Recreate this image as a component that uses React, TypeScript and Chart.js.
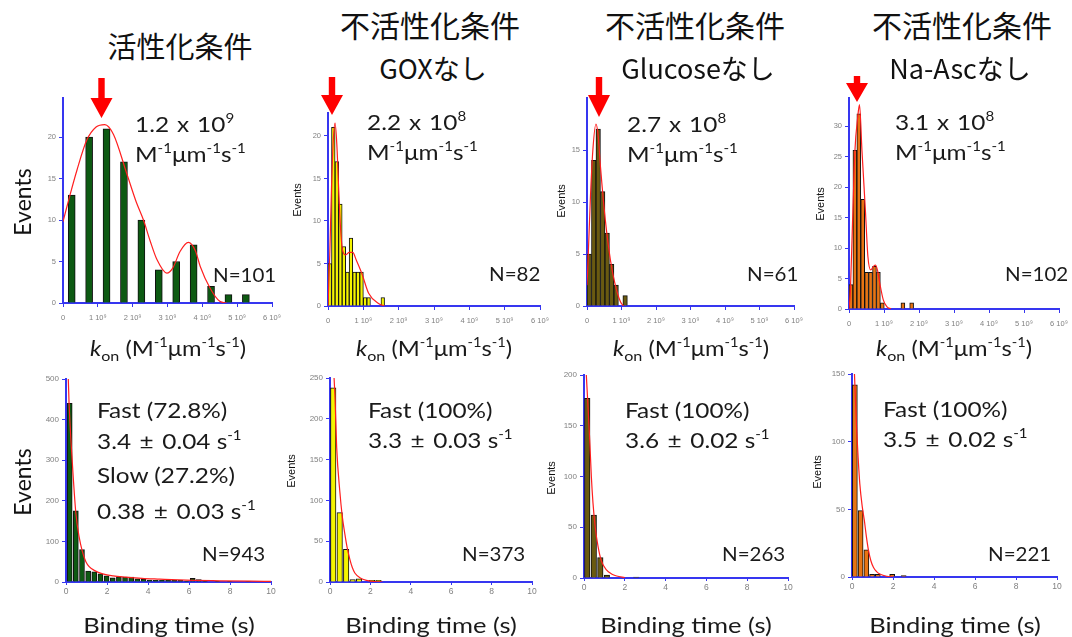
import React, { useEffect, useRef } from "react";
import { Chart, registerables } from "chart.js";
Chart.register(...registerables);

// ======================= DATA =======================
// Top row: k_on histograms, x in units of 10^9 M^-1 µm^-1 s^-1
const konTicks = [0, 1, 2, 3, 4, 5, 6];

const actKonBins = [0.25, 0.75, 1.25, 1.75, 2.25, 2.75, 3.25, 3.75, 4.25, 4.75, 5.25];
const actKonCounts = [13, 20, 21, 17, 10, 4, 5, 7, 2, 1, 1];
const actKonFitX = [0, 0.2, 0.4, 0.68, 0.95, 1.2, 1.45, 1.83, 2.1, 2.31, 2.5, 2.7, 2.98, 3.15, 3.36, 3.6, 3.8, 3.94, 4.22, 4.5, 4.7];
const actKonFitY = [9.8, 13, 16, 19.6, 21.2, 21.5, 20.3, 15.6, 12.2, 10, 7.5, 5.2, 3.6, 4.2, 6.2, 7.3, 6.3, 4.4, 1.8, 0.2, 0];

const goxKonBins = [0.05, 0.15, 0.25, 0.35, 0.45, 0.55, 0.65, 0.75, 0.85, 0.95, 1.05, 1.15, 1.55];
const goxKonCounts = [5, 21, 17, 12, 7, 4, 8, 4, 4, 4, 1, 1, 1];
const goxKonFitX = [0, 0.05, 0.1, 0.15, 0.2, 0.25, 0.3, 0.35, 0.41, 0.5, 0.6, 0.7, 0.8, 0.96, 1.15, 1.43, 1.6];
const goxKonFitY = [0, 6, 14, 19.5, 21.5, 19, 14, 9.5, 6.6, 6, 6.3, 6.3, 5.4, 3.8, 1.5, 0.3, 0];

const gluKonBins = [0.065, 0.195, 0.325, 0.455, 0.585, 0.715, 0.845, 1.105];
const gluKonCounts = [5, 14, 17, 11, 7, 4, 2, 1];
const gluKonFitX = [0, 0.02, 0.1, 0.17, 0.26, 0.32, 0.39, 0.53, 0.68, 0.82, 0.97, 1.06];
const gluKonFitY = [2, 3.5, 10.5, 15, 17.5, 16.5, 13.4, 8.3, 4.4, 2, 0.4, 0];

const ascKonBins = [0.056, 0.168, 0.28, 0.392, 0.504, 0.616, 0.728, 0.84, 0.952, 1.54, 1.79];
const ascKonCounts = [4, 26, 32, 18, 6, 6, 7, 6, 1, 1, 1];
const ascKonFitX = [0, 0.04, 0.1, 0.17, 0.25, 0.3, 0.37, 0.47, 0.54, 0.62, 0.7, 0.76, 0.82, 0.88, 0.98, 1.08, 1.2];
const ascKonFitY = [0, 3, 14, 26, 31.5, 33.5, 26, 16, 8.6, 6.4, 7, 7.2, 6.2, 4.2, 1.5, 0.4, 0];

// Bottom row: binding-time histograms, x in seconds
const timeTicks = [0, 2, 4, 6, 8, 10];

const actTimeBins = [0.18, 0.48, 0.78, 1.08, 1.38, 1.68, 1.98, 2.28, 2.58, 2.88, 3.18, 3.48, 3.78, 4.08, 4.38, 4.68, 4.98, 5.28, 5.58, 5.88, 6.18, 6.48, 6.78, 7.38, 7.98, 8.88, 9.78];
const actTimeCounts = [440, 175, 80, 27, 25, 20, 15, 10, 13, 12, 12, 8, 7, 5, 4, 4, 4, 4, 4, 2, 9, 6, 1, 1, 1, 1, 1];
const actTimeFitX = [0.1, 0.15, 0.31, 0.48, 0.64, 0.8, 0.97, 1.13, 1.4, 1.79, 2.3, 2.93, 3.7, 4.57, 5.5, 6.2, 7.5, 9, 10];
const actTimeFitY = [520, 440, 293, 170, 111, 75, 50, 38, 28, 20, 15, 12, 9, 7, 5, 4, 3, 2, 1.5];

const goxTimeBins = [0.16, 0.48, 0.8, 1.12, 1.44, 2.08, 2.4];
const goxTimeCounts = [238, 85, 40, 3, 4, 2, 2];
const goxTimeFitX = [0.18, 0.25, 0.33, 0.49, 0.6, 0.74, 0.85, 0.98, 1.1, 1.23, 1.5, 1.8, 2.2, 2.6];
const goxTimeFitY = [260, 225, 165, 110, 82, 58, 42, 28, 18, 11, 5, 2, 0.5, 0];

const gluTimeBins = [0.16, 0.48, 0.8, 1.12, 2.56];
const gluTimeCounts = [177, 62, 20, 3, 1];
const gluTimeFitX = [0.1, 0.18, 0.28, 0.36, 0.44, 0.55, 0.69, 0.85, 1.1, 1.35, 1.6, 2.0];
const gluTimeFitY = [205, 175, 136, 100, 74, 50, 31, 17, 8, 4, 2, 0.5];

const ascTimeBins = [0.14, 0.42, 0.7, 0.98, 1.26, 1.96, 2.52];
const ascTimeCounts = [142, 49, 20, 2, 2, 2, 1];
const ascTimeFitX = [0.1, 0.12, 0.22, 0.3, 0.38, 0.5, 0.6, 0.7, 0.8, 0.92, 1.05, 1.2, 1.38, 1.7, 2.0];
const ascTimeFitY = [160, 150, 111, 88, 69, 52, 42, 30, 20, 12, 7, 4, 2, 0.5, 0];

const yTicksA = [0, 5, 10, 15, 20];
const yTicksB = [0, 5, 10, 15];
const yTicksC = [0, 5, 10, 15, 20, 25, 30];
const yTicksD = [0, 100, 200, 300, 400, 500];
const yTicksE = [0, 50, 100, 150, 200, 250];
const yTicksF = [0, 50, 100, 150, 200];
const yTicksG = [0, 50, 100, 150];

// ======================= STYLE / LAYOUT =======================
const BLUE = "#3636f0";
const RED = "#ff1f1f";
const GREEN = "#0d5a12";
const YELLOW = "#f4f400";
const OLIVE = "#6a5a10";
const ORANGE = "#e87412";
const LAT = "Lato, 'Open Sans', sans-serif";
const CJK = "'Noto Sans CJK JP', sans-serif";
const ARIAL = "'Liberation Sans', Arial, sans-serif";
const SX = 1.16;

const LM = 32, TM = 12, RM = 18, BM = 24;

type Spec = {
  plot: { l: number; t: number; r: number; b: number };
  xMax: number;
  xTicks: number[];
  xFmt: (v: number) => string;
  yMax: number;
  yTicks: number[];
  bins: number[];
  counts: number[];
  fitX: number[];
  fitY: number[];
  color: string;
  barPx: number;
  top: boolean;
};

const konFmt = (v: number) => (v === 0 ? "0" : `${v} 10\u2079`);
const secFmt = (v: number) => String(v);

const specs: Spec[] = [
  { plot: { l: 63, t: 98, r: 272, b: 303 }, xMax: 6, xTicks: konTicks, xFmt: konFmt, yMax: 24.7, yTicks: yTicksA, bins: actKonBins, counts: actKonCounts, fitX: actKonFitX, fitY: actKonFitY, color: GREEN, barPx: 7, top: true },
  { plot: { l: 328, t: 113, r: 540, b: 306 }, xMax: 6, xTicks: konTicks, xFmt: konFmt, yMax: 22.7, yTicks: yTicksA, bins: goxKonBins, counts: goxKonCounts, fitX: goxKonFitX, fitY: goxKonFitY, color: YELLOW, barPx: 3.6, top: true },
  { plot: { l: 587, t: 98, r: 794, b: 306 }, xMax: 6, xTicks: konTicks, xFmt: konFmt, yMax: 20, yTicks: yTicksB, bins: gluKonBins, counts: gluKonCounts, fitX: gluKonFitX, fitY: gluKonFitY, color: OLIVE, barPx: 4.5, top: true },
  { plot: { l: 849, t: 98, r: 1059, b: 309 }, xMax: 6, xTicks: konTicks, xFmt: konFmt, yMax: 34.6, yTicks: yTicksC, bins: ascKonBins, counts: ascKonCounts, fitX: ascKonFitX, fitY: ascKonFitY, color: ORANGE, barPx: 3.9, top: true },
  { plot: { l: 66, t: 379, r: 271, b: 582 }, xMax: 10, xTicks: timeTicks, xFmt: secFmt, yMax: 500, yTicks: yTicksD, bins: actTimeBins, counts: actTimeCounts, fitX: actTimeFitX, fitY: actTimeFitY, color: GREEN, barPx: 5, top: false },
  { plot: { l: 330, t: 378, r: 532, b: 582 }, xMax: 10, xTicks: timeTicks, xFmt: secFmt, yMax: 250, yTicks: yTicksE, bins: goxTimeBins, counts: goxTimeCounts, fitX: goxTimeFitX, fitY: goxTimeFitY, color: YELLOW, barPx: 5.5, top: false },
  { plot: { l: 584, t: 375, r: 788, b: 578 }, xMax: 10, xTicks: timeTicks, xFmt: secFmt, yMax: 200, yTicks: yTicksF, bins: gluTimeBins, counts: gluTimeCounts, fitX: gluTimeFitX, fitY: gluTimeFitY, color: OLIVE, barPx: 5.5, top: false },
  { plot: { l: 852, t: 374, r: 1057, b: 577 }, xMax: 10, xTicks: timeTicks, xFmt: secFmt, yMax: 150, yTicks: yTicksG, bins: ascTimeBins, counts: ascTimeCounts, fitX: ascTimeFitX, fitY: ascTimeFitY, color: ORANGE, barPx: 5, top: false },
];

function HistPanel({ spec }: { spec: Spec }) {
  const ref = useRef<HTMLCanvasElement | null>(null);
  const w = spec.plot.r - spec.plot.l + LM + RM;
  const h = spec.plot.b - spec.plot.t + TM + BM;
  useEffect(() => {
    const chart = new Chart(ref.current as HTMLCanvasElement, {
      type: "bar",
      data: {
        datasets: [
          {
            type: "line",
            data: spec.fitX.map((x, i) => ({ x, y: spec.fitY[i] })),
            borderColor: RED,
            borderWidth: 1.2,
            pointRadius: 0,
            cubicInterpolationMode: "monotone",
            fill: false,
            order: 0,
          } as any,
          {
            type: "bar",
            data: spec.bins.map((x, i) => ({ x, y: spec.counts[i] })),
            backgroundColor: spec.color,
            borderColor: "#111",
            borderWidth: 1,
            barThickness: spec.barPx,
            order: 1,
          } as any,
        ],
      },
      options: {
        responsive: false,
        animation: false,
        events: [],
        layout: { padding: { top: TM, right: RM, left: 0, bottom: 0 } },
        plugins: { legend: { display: false }, tooltip: { enabled: false } },
        scales: {
          x: {
            type: "linear",
            min: 0,
            max: spec.xMax,
            offset: false,
            afterFit: (s: any) => { s.height = BM; },
            afterBuildTicks: (s: any) => { s.ticks = spec.xTicks.map((v) => ({ value: v })); },
            ticks: {
              autoSkip: false,
              maxRotation: 0,
              padding: spec.top ? 6 : 2,
              color: "#808080",
              font: { family: ARIAL, size: spec.top ? 7.5 : 8.5 },
              callback: (v: any) => spec.xFmt(Number(v)),
            },
            grid: { offset: false, drawOnChartArea: false, drawTicks: true, tickLength: spec.top ? 4 : 3, color: BLUE, lineWidth: 1 },
            border: { display: true, color: BLUE, width: 2 },
          },
          y: {
            type: "linear",
            min: 0,
            max: spec.yMax,
            afterFit: (s: any) => { s.width = LM; },
            afterBuildTicks: (s: any) => { s.ticks = spec.yTicks.map((v) => ({ value: v })); },
            ticks: {
              autoSkip: false,
              padding: 3,
              color: "#808080",
              font: { family: ARIAL, size: spec.top ? 7.5 : 8 },
              callback: (v: any) => String(v),
            },
            grid: { drawOnChartArea: false, drawTicks: true, tickLength: 4, color: BLUE, lineWidth: 1 },
            border: { display: true, color: BLUE, width: 2 },
          },
        },
      } as any,
    });
    return () => chart.destroy();
  }, []);
  return (
    <canvas
      ref={ref}
      width={w}
      height={h}
      style={{ position: "absolute", left: spec.plot.l - LM, top: spec.plot.t - TM, width: w, height: h }}
    />
  );
}

// ======================= TEXT =======================
function Sup({ children }: { children: React.ReactNode }) {
  return <span style={{ fontSize: "0.62em", position: "relative", top: "-0.72em" }}>{children}</span>;
}

function Gap({ children, m }: { children: React.ReactNode; m: number }) {
  return <span style={{ margin: `0 ${m}px` }}>{children}</span>;
}

function Lbl(props: { x: number; cap: number; size: number; center?: boolean; children: React.ReactNode; sx?: number }) {
  const { x, cap, size, center, children } = props;
  const sx = props.sx ?? SX;
  return (
    <div
      style={{
        position: "absolute",
        left: x,
        top: cap - 0.17 * size,
        fontFamily: LAT,
        fontSize: size,
        lineHeight: 1,
        whiteSpace: "pre",
        color: "#1a1a1a",
        transform: center ? `translateX(-50%) scaleX(${sx})` : `scaleX(${sx})`,
        transformOrigin: center ? "50% 0" : "0 0",
      }}
    >
      {children}
    </div>
  );
}

function Title({ cx, top, size, text }: { cx: number; top: number; size: number; text: string }) {
  return (
    <div
      style={{
        position: "absolute",
        left: cx,
        top: top - 0.07 * size,
        fontFamily: CJK,
        fontSize: size,
        lineHeight: 1,
        whiteSpace: "nowrap",
        color: "#111",
        transform: "translateX(-50%)",
      }}
    >
      {text}
    </div>
  );
}

function VText({ cx, cy, size, font, text }: { cx: number; cy: number; size: number; font: string; text: string }) {
  return (
    <div
      style={{
        position: "absolute",
        left: cx,
        top: cy,
        fontFamily: font,
        fontSize: size,
        lineHeight: 1,
        whiteSpace: "nowrap",
        color: "#111",
        transform: "translate(-50%, -50%) rotate(-90deg)",
        transformOrigin: "50% 50%",
      }}
    >
      {text}
    </div>
  );
}

const Kon = () => (
  <>
    <i>k</i>
    <span style={{ fontSize: "0.68em", position: "relative", top: "0.32em" }}>on</span>
    {" (M"}<Sup>-1</Sup>{"\u03bcm"}<Sup>-1</Sup>{"s"}<Sup>-1</Sup>{")"}
  </>
);
const Unit = () => (
  <>
    {"M"}<Sup>-1</Sup>{"\u03bcm"}<Sup>-1</Sup>{"s"}<Sup>-1</Sup>
  </>
);
const Sci = ({ m, e }: { m: string; e: string }) => (
  <>
    {m + " "}<Gap m={1.5}>x</Gap>{" 10"}<Sup>{e}</Sup>
  </>
);
const Rate = ({ v, err }: { v: string; err: string }) => (
  <>
    {v + " "}<Gap m={2}>±</Gap>{" " + err + " s"}<Sup>-1</Sup>
  </>
);

function Arrow({ cx, top, head, tip }: { cx: number; top: number; head: number; tip: number }) {
  const s = 3.2, hw = 11;
  const pts = [
    [cx - s, top], [cx + s, top], [cx + s, head], [cx + hw, head],
    [cx, tip], [cx - hw, head], [cx - s, head],
  ].map((p) => p.join(",")).join(" ");
  return <polygon points={pts} fill="#ff0000" />;
}

export default function App() {
  const c = (i: number) => (specs[i].plot.l + specs[i].plot.r) / 2;
  return (
    <div style={{ position: "absolute", left: 0, top: 0, width: 1072, height: 637, background: "#fff", overflow: "hidden" }}>
      {specs.map((s, i) => <HistPanel key={i} spec={s} />)}

      {/* titles */}
      <Title cx={180} top={33} size={29} text="活性化条件" />
      <Title cx={430} top={11} size={30} text="不活性化条件" />
      <Title cx={433} top={56} size={27} text="GOXなし" />
      <Title cx={695} top={11} size={30} text="不活性化条件" />
      <Title cx={698} top={56} size={27} text="Glucoseなし" />
      <Title cx={962} top={11} size={30} text="不活性化条件" />
      <Title cx={960} top={56} size={27} text="Na-Ascなし" />

      {/* arrows */}
      <svg width={1072} height={637} style={{ position: "absolute", left: 0, top: 0 }}>
        <Arrow cx={101.5} top={78} head={98} tip={118} />
        <Arrow cx={332} top={77} head={95} tip={115} />
        <Arrow cx={599} top={77} head={95} tip={117} />
        <Arrow cx={857} top={76} head={83} tip={102} />
      </svg>

      {/* top annotations */}
      <Lbl x={135} cap={117} size={21}><Sci m="1.2" e="9" /></Lbl>
      <Lbl x={135} cap={147} size={21}><Unit /></Lbl>
      <Lbl x={213} cap={268} size={19} sx={1.08}>N=101</Lbl>
      <Lbl x={367} cap={115} size={21}><Sci m="2.2" e="8" /></Lbl>
      <Lbl x={367} cap={145} size={21}><Unit /></Lbl>
      <Lbl x={489} cap={267} size={19} sx={1.08}>N=82</Lbl>
      <Lbl x={627} cap={117} size={21}><Sci m="2.7" e="8" /></Lbl>
      <Lbl x={627} cap={147} size={21}><Unit /></Lbl>
      <Lbl x={747} cap={267} size={19} sx={1.08}>N=61</Lbl>
      <Lbl x={895} cap={115} size={21}><Sci m="3.1" e="8" /></Lbl>
      <Lbl x={895} cap={145} size={21}><Unit /></Lbl>
      <Lbl x={1005} cap={267} size={19} sx={1.08}>N=102</Lbl>

      {/* k_on axis titles */}
      {[0, 1, 2, 3].map((i) => (
        <Lbl key={i} x={c(i)} cap={341} size={21} sx={1.13} center><Kon /></Lbl>
      ))}

      {/* bottom annotations */}
      <Lbl x={97} cap={403} size={21}>Fast (72.8%)</Lbl>
      <Lbl x={97} cap={434} size={21}><Rate v="3.4" err="0.04" /></Lbl>
      <Lbl x={97} cap={468} size={21}>Slow (27.2%)</Lbl>
      <Lbl x={97} cap={504} size={21}><Rate v="0.38" err="0.03" /></Lbl>
      <Lbl x={202} cap={547} size={19} sx={1.08}>N=943</Lbl>
      <Lbl x={368} cap={403} size={21}>Fast (100%)</Lbl>
      <Lbl x={368} cap={433} size={21}><Rate v="3.3" err="0.03" /></Lbl>
      <Lbl x={462} cap={547} size={19} sx={1.08}>N=373</Lbl>
      <Lbl x={625} cap={403} size={21}>Fast (100%)</Lbl>
      <Lbl x={625} cap={433} size={21}><Rate v="3.6" err="0.02" /></Lbl>
      <Lbl x={722} cap={547} size={19} sx={1.08}>N=263</Lbl>
      <Lbl x={883} cap={402} size={21}>Fast (100%)</Lbl>
      <Lbl x={883} cap={432} size={21}><Rate v="3.5" err="0.02" /></Lbl>
      <Lbl x={988} cap={547} size={19} sx={1.08}>N=221</Lbl>

      {/* binding-time axis titles */}
      {[4, 5, 6, 7].map((i) => (
        <Lbl key={i} x={c(i)} cap={618} size={22} center>Binding time (s)</Lbl>
      ))}

      {/* Events labels */}
      <VText cx={22} cy={202} size={23} font={LAT} text="Events" />
      <VText cx={22} cy={482} size={23} font={LAT} text="Events" />
      <VText cx={297} cy={200} size={11} font={ARIAL} text="Events" />
      <VText cx={561} cy={201} size={11} font={ARIAL} text="Events" />
      <VText cx={820} cy={204} size={11} font={ARIAL} text="Events" />
      <VText cx={291} cy={471} size={11} font={ARIAL} text="Events" />
      <VText cx={551} cy={478} size={11} font={ARIAL} text="Events" />
      <VText cx={817} cy={472} size={11} font={ARIAL} text="Events" />
    </div>
  );
}
